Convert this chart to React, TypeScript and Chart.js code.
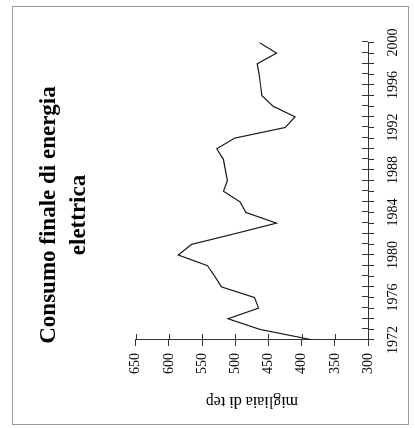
import React, { useEffect, useRef } from 'react';
import { Chart, registerables } from 'chart.js';

Chart.register(...registerables);

const years = [
  1972, 1973, 1974, 1975, 1976, 1977, 1978, 1979, 1980, 1981,
  1982, 1983, 1984, 1985, 1986, 1987, 1988, 1989, 1990, 1991,
  1992, 1993, 1994, 1995, 1996, 1997, 1998, 1999, 2000,
];
const consumption = [
  383, 463, 511, 465, 471, 521, 531, 542, 586, 566,
  501, 438, 484, 493, 518, 512, 515, 518, 528, 501,
  425, 410, 443, 460, 462, 464, 467, 438, 464,
];
const titleLines = ['Consumo finale di energia', 'elettrica'];
const valueAxisTitle = 'migliaia di tep';
const yearMin = 1972;
const yearMax = 2000;
const yearLabelStep = 4;
const valueMin = 300;
const valueMax = 650;
const valueStep = 50;

const FONT = "'Liberation Serif', 'Times New Roman', serif";
const AXIS_COLOR = '#333';

const crossTicks = {
  id: 'crossTicks',
  afterDraw(chart: any) {
    const ctx = chart.ctx;
    const xs = chart.scales.x;
    const ys = chart.scales.y;
    ctx.save();
    ctx.strokeStyle = AXIS_COLOR;
    ctx.lineWidth = 1;
    ctx.beginPath();
    xs.ticks.forEach((_t: any, i: number) => {
      const px = Math.round(xs.getPixelForTick(i)) + 0.5;
      ctx.moveTo(px, xs.top);
      ctx.lineTo(px, xs.top - 6);
    });
    ys.ticks.forEach((_t: any, i: number) => {
      const py = Math.round(ys.getPixelForTick(i)) + 0.5;
      ctx.moveTo(ys.right, py);
      ctx.lineTo(ys.right + 6, py);
    });
    ctx.stroke();
    ctx.restore();
  },
};

export default function App() {
  const ref = useRef<HTMLCanvasElement | null>(null);

  useEffect(() => {
    if (!ref.current) return;
    const chart = new Chart(ref.current, {
      type: 'line',
      data: {
        datasets: [
          {
            data: years.map((y, i) => ({ x: y, y: consumption[i] })),
            borderColor: '#1a1a1a',
            borderWidth: 1.2,
            pointRadius: 0,
            tension: 0,
            fill: false,
            xAxisID: 'x',
            yAxisID: 'y',
          },
        ],
      },
      options: {
        animation: false,
        responsive: false,
        devicePixelRatio: 1,
        layout: { padding: 0 },
        plugins: {
          legend: { display: false },
          tooltip: { enabled: false },
          title: {
            display: true,
            text: titleLines,
            color: '#000',
            font: { family: FONT, size: 23, weight: 'bold', lineHeight: 1.3 },
            padding: { top: 22, bottom: 42 },
          },
        },
        scales: {
          x: {
            type: 'linear',
            position: 'bottom',
            min: yearMin,
            max: yearMax,
            ticks: {
              stepSize: 1,
              autoSkip: false,
              maxRotation: 0,
              minRotation: 0,
              padding: 11,
              color: '#000',
              font: { family: FONT, size: 14 },
              callback: (v: any) => ((Number(v) - yearMin) % yearLabelStep === 0 ? String(v) : ''),
            },
            grid: { drawOnChartArea: false, drawTicks: true, tickLength: 6, color: AXIS_COLOR },
            border: { display: true, color: AXIS_COLOR, width: 1 },
            afterFit: (s: any) => {
              s.height = 40;
            },
          },
          y: {
            type: 'linear',
            position: 'left',
            min: valueMin,
            max: valueMax,
            ticks: {
              stepSize: valueStep,
              padding: 7,
              color: '#000',
              font: { family: FONT, size: 14 },
            },
            grid: { drawOnChartArea: false, drawTicks: true, tickLength: 6, color: AXIS_COLOR },
            border: { display: true, color: AXIS_COLOR, width: 1 },
            title: {
              display: true,
              text: valueAxisTitle,
              color: '#000',
              font: { family: FONT, size: 16 },
              padding: { top: 13, bottom: 0 },
            },
            afterFit: (s: any) => {
              s.width = 84;
            },
          },
          yPad: {
            type: 'linear',
            position: 'right',
            display: true,
            grid: { display: false },
            border: { display: false },
            ticks: { display: false },
            afterFit: (s: any) => {
              s.width = 36.5;
            },
          },
        },
      },
      plugins: [crossTicks],
    } as any);
    return () => chart.destroy();
  }, []);

  return (
    <div>
      <div
        style={{
          position: 'absolute',
          left: 12,
          top: 6,
          width: 395,
          height: 417,
          border: '1px solid #9a9a9a',
        }}
      />
      <div
        style={{
          position: 'absolute',
          left: 1,
          top: 17,
          width: 418,
          height: 396,
          transform: 'rotate(-90deg)',
          transformOrigin: 'center center',
        }}
      >
        <canvas ref={ref} width={418} height={396} style={{ display: 'block' }} />
      </div>
    </div>
  );
}
